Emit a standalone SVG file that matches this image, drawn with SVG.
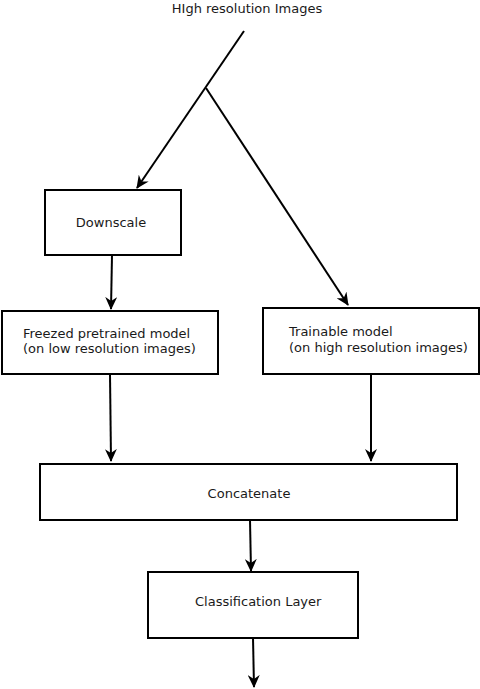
<svg xmlns="http://www.w3.org/2000/svg" width="480" height="689" viewBox="0 0 480 689">
<style>
.box{fill:#fff;stroke:#000;stroke-width:2}
.t{font-family:"DejaVu Sans",sans-serif;font-size:13px;fill:#1a1a1a}
.c{fill:none;stroke:#000;stroke-width:2}
</style>
<defs>
<marker id="ah" viewBox="0 0 13 12" refX="12" refY="6" markerWidth="13" markerHeight="12" markerUnits="userSpaceOnUse" orient="auto">
<path d="M0,0 L13,6 L0,12 L4,6 Z" fill="#000"/>
</marker>
</defs>
<rect width="480" height="689" fill="#fff"/>
<text class="t" x="247" y="13" text-anchor="middle">HIgh resolution Images</text>
<g id="connectors">
<path class="c" d="M244,31 L137,188" marker-end="url(#ah)"/>
<path class="c" d="M206,88 L348,305" marker-end="url(#ah)"/>
<path class="c" d="M112,255 L111,309" marker-end="url(#ah)"/>
<path class="c" d="M110,374 L111,461" marker-end="url(#ah)"/>
<path class="c" d="M371,374 L371,461" marker-end="url(#ah)"/>
<path class="c" d="M250,520 L251,571" marker-end="url(#ah)"/>
<path class="c" d="M253,638 L254,687" marker-end="url(#ah)"/>
</g>
<g id="downscale">
<rect class="box" x="45" y="190" width="136" height="65"/>
<text class="t" x="111" y="227" text-anchor="middle">Downscale</text>
</g>
<g id="freezed">
<rect class="box" x="2" y="311" width="216" height="63"/>
<text class="t" x="23" y="338">Freezed pretrained model</text>
<text class="t" x="23" y="353">(on low resolution images)</text>
</g>
<g id="trainable">
<rect class="box" x="263" y="308" width="216" height="66"/>
<text class="t" x="289" y="336">Trainable model</text>
<text class="t" x="289" y="352">(on high resolution images)</text>
</g>
<g id="concatenate">
<rect class="box" x="40" y="464" width="417" height="56"/>
<text class="t" x="249" y="498" text-anchor="middle">Concatenate</text>
</g>
<g id="classification">
<rect class="box" x="148" y="572" width="210" height="66"/>
<text class="t" x="195" y="606">Classification Layer</text>
</g>
</svg>
